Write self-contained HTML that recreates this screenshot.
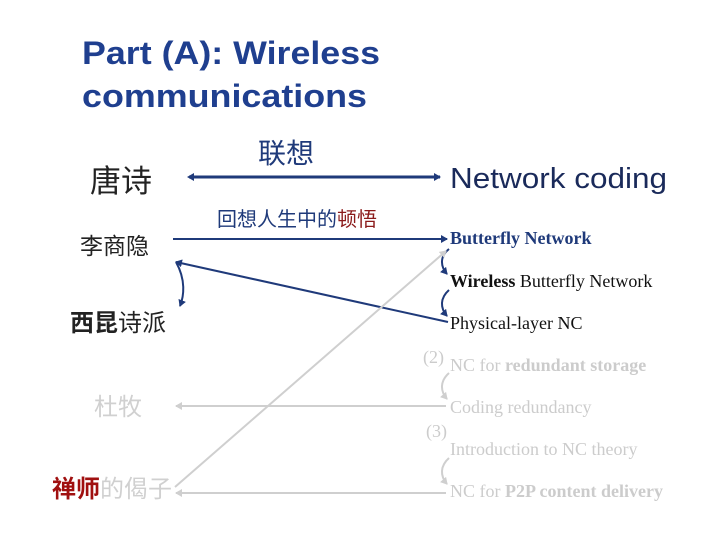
<!DOCTYPE html>
<html><head><meta charset="utf-8"><style>
html,body{margin:0;padding:0;background:#fff;width:720px;height:540px;overflow:hidden}
</style></head><body>
<svg width="720" height="540" viewBox="0 0 720 540" xmlns="http://www.w3.org/2000/svg">
<defs>
<marker id="an" markerWidth="8" markerHeight="8" refX="6" refY="4" orient="auto" markerUnits="userSpaceOnUse"><path d="M0,0 L7,4 L0,8 Z" fill="#1f3a7a"/></marker>
<marker id="ans" markerWidth="8" markerHeight="8" refX="2" refY="4" orient="auto" markerUnits="userSpaceOnUse"><path d="M7,0 L0,4 L7,8 Z" fill="#1f3a7a"/></marker>
<marker id="ag" markerWidth="8" markerHeight="8" refX="6" refY="4" orient="auto" markerUnits="userSpaceOnUse"><path d="M0,0 L7,4 L0,8 Z" fill="#cfcfcf"/></marker>
</defs>
<g font-family="Liberation Sans, sans-serif" fill="#1f3f8f" font-size="32" font-weight="bold">
<text x="82" y="64" textLength="298" lengthAdjust="spacingAndGlyphs">Part (A): Wireless</text>
<text x="82" y="107" textLength="285" lengthAdjust="spacingAndGlyphs">communications</text>
</g>
<g font-family="Liberation Sans, Noto Sans CJK SC, sans-serif">
<text x="90" y="192" font-size="31" fill="#222">唐诗</text>
<text x="258" y="163" font-size="28" fill="#1f3a7a">联想</text>
<text x="450" y="188" font-size="29" fill="#1a2a5a" textLength="217" lengthAdjust="spacingAndGlyphs">Network coding</text>
<text x="217" y="226" font-size="20" fill="#1f3a7a">回想人生中的<tspan fill="#8b1a1a">顿悟</tspan></text>
<text x="80" y="254" font-size="23" fill="#222">李商隐</text>
<text x="70" y="331" font-size="24" fill="#222"><tspan font-weight="bold">西昆</tspan>诗派</text>
<text x="94" y="415" font-size="24" fill="#d0d0d0">杜牧</text>
<text x="52" y="497" font-size="24" fill="#d0d0d0"><tspan fill="#a01010" font-weight="bold">禅师</tspan>的偈子</text>
</g>
<g font-family="Liberation Serif, serif" font-size="18">
<text x="450" y="244" fill="#1f3a7a" font-weight="bold">Butterfly Network</text>
<text x="450" y="287" fill="#111"><tspan font-weight="bold">Wireless</tspan> Butterfly Network</text>
<text x="450" y="329" fill="#111">Physical-layer NC</text>
<g fill="#cccccc">
<text x="423" y="363">(2)</text>
<text x="450" y="371">NC for <tspan font-weight="bold">redundant storage</tspan></text>
<text x="450" y="413">Coding redundancy</text>
<text x="426" y="437">(3)</text>
<text x="450" y="455">Introduction to NC theory</text>
<text x="450" y="497">NC for <tspan font-weight="bold">P2P content delivery</tspan></text>
</g>
</g>
<g stroke="#1f3a7a" fill="none">
<line x1="189" y1="177" x2="440" y2="177" stroke-width="3" marker-start="url(#ans)" marker-end="url(#an)"/>
<line x1="173" y1="239" x2="447" y2="239" stroke-width="2" marker-end="url(#an)"/>
<line x1="448" y1="322" x2="176" y2="262" stroke-width="2" marker-end="url(#an)"/>
<path d="M176,262 C186,280 184,296 180,306" stroke-width="2" marker-end="url(#an)"/>
<path d="M449,249 C440,256 440,266 447,274" stroke-width="2" marker-end="url(#an)"/>
<path d="M449,290 C440,298 440,308 447,316" stroke-width="2" marker-end="url(#an)"/>
</g>
<g stroke="#cfcfcf" fill="none" stroke-width="2">
<line x1="175" y1="487" x2="446" y2="251" marker-end="url(#ag)"/>
<line x1="446" y1="406" x2="176" y2="406" marker-end="url(#ag)"/>
<line x1="446" y1="493" x2="176" y2="493" marker-end="url(#ag)"/>
<path d="M449,373 C440,381 440,391 447,399" marker-end="url(#ag)"/>
<path d="M449,458 C440,466 440,476 447,484" marker-end="url(#ag)"/>
</g>
</svg>
</body></html>
